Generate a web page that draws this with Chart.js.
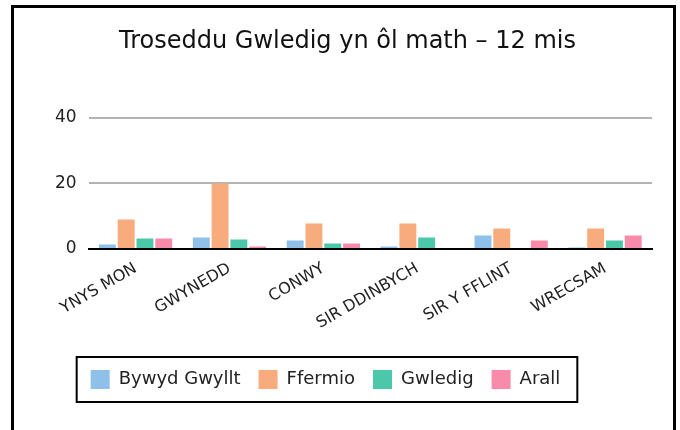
<!DOCTYPE html>
<html>
<head>
<meta charset="utf-8">
<script src="https://cdn.jsdelivr.net/npm/chart.js@4"></script>
<style>
    body { margin: 0; background: #fff; }
    #frame {
        position: absolute;
        left: 11px;
        top: 5px;
        width: 659px;
        height: 440px;
        border: 3px solid #000;
        background: #fff;
    }
    #crimeChart { display: block; }
</style>
</head>
<body>
<div id="frame">
    <canvas id="crimeChart" width="659" height="422"></canvas>
</div>
<script>
const areas = ['YNYS MON', 'GWYNEDD', 'CONWY', 'SIR DDINBYCH', 'SIR Y FFLINT', 'WRECSAM'];

const wildlife = [1.4, 3.5, 2.6, 0.8, 4.1, 0.5];   // Bywyd Gwyllt
const farming  = [9, 20, 7.8, 7.8, 6.3, 6.3];      // Ffermio
const rural    = [3.2, 2.9, 1.7, 3.5, 0, 2.6];     // Gwledig
const other    = [3.2, 0.8, 1.7, 0, 2.6, 4.1];     // Arall

const yTicks = [0, 20, 40];

const FONT = "'DejaVu Sans', sans-serif";

// Draws the black box round the legend, and nudges the legend a little left like the original
const legendBox = {
    id: 'legendBox',
    afterLayout(chart) {
        chart.legend.left -= 22;
        chart.legend.right -= 22;
    },
    afterDraw(chart) {
        const boxes = chart.legend.legendHitBoxes;
        if (!boxes || !boxes.length) return;
        const first = boxes[0];
        const last = boxes[boxes.length - 1];
        const cy = first.top + first.height / 2;
        const ctx = chart.ctx;
        ctx.save();
        ctx.strokeStyle = '#000';
        ctx.lineWidth = 2;
        ctx.strokeRect(first.left - 14, cy - 22.5, (last.left + last.width) - first.left + 31, 45);
        ctx.restore();
    }
};

function renderChart() {
    const ctx = document.getElementById('crimeChart').getContext('2d');
    new Chart(ctx, {
        type: 'bar',
        data: {
            labels: areas,
            datasets: [
                { label: 'Bywyd Gwyllt', data: wildlife, backgroundColor: '#8EC0EA' },
                { label: 'Ffermio', data: farming, backgroundColor: '#F8AB7D' },
                { label: 'Gwledig', data: rural, backgroundColor: '#4BC8A9' },
                { label: 'Arall', data: other, backgroundColor: '#F98BAA' }
            ]
        },
        options: {
            responsive: false,
            animation: false,
            layout: {
                padding: { left: 29, right: 21, top: 0, bottom: 31 }
            },
            scales: {
                x: {
                    grid: { display: false },
                    border: { display: true, color: '#000', width: 2 },
                    afterFit(axis) {
                        // leave room between the slanted names and the legend
                        axis.height += 17;
                    },
                    ticks: {
                        color: '#222',
                        font: { family: FONT, size: 16 },
                        minRotation: 30,
                        maxRotation: 30,
                        padding: 2
                    }
                },
                y: {
                    min: 0,
                    max: 40,
                    afterBuildTicks(axis) {
                        axis.ticks = yTicks.map(v => ({ value: v }));
                    },
                    grid: { color: '#b3b3b3', lineWidth: 2, drawTicks: false },
                    border: { display: false },
                    ticks: {
                        color: '#222',
                        padding: 12,
                        font: { family: FONT, size: 17 }
                    }
                }
            },
            plugins: {
                title: {
                    display: true,
                    text: 'Troseddu Gwledig yn ôl math – 12 mis',
                    color: '#111',
                    font: { family: FONT, size: 24, weight: 'normal' },
                    padding: { top: 19, bottom: 62 }
                },
                legend: {
                    position: 'bottom',
                    labels: {
                        color: '#222',
                        boxWidth: 19,
                        boxHeight: 19,
                        padding: 18,
                        font: { family: FONT, size: 18 }
                    }
                },
                tooltip: { enabled: false }
            }
        },
        plugins: [legendBox]
    });
}

document.addEventListener('DOMContentLoaded', renderChart);
</script>
</body>
</html>
